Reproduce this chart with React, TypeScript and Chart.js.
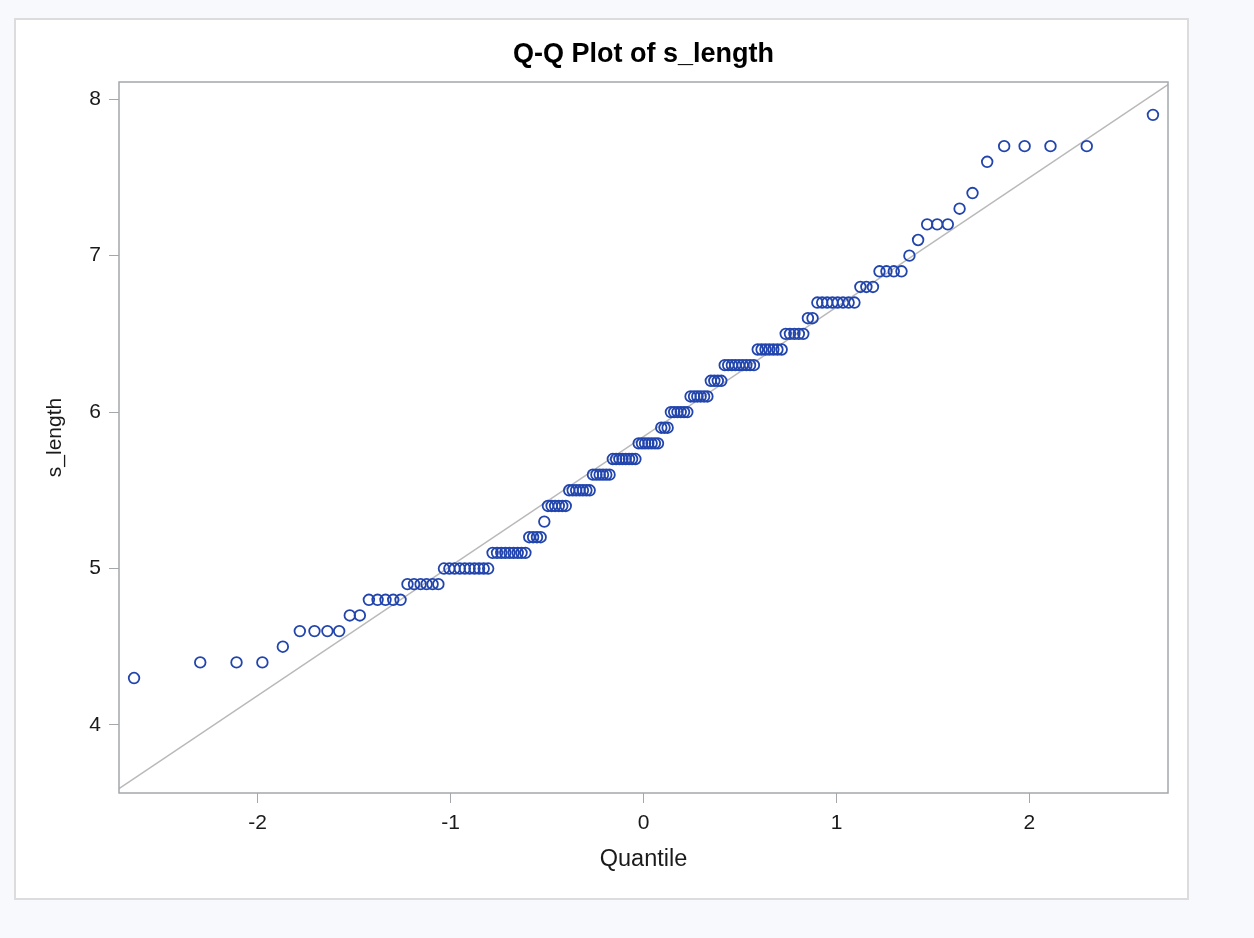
import React, { useEffect, useRef } from "react";
import { Chart, registerables } from "chart.js";

Chart.register(...registerables);

// Normal quantiles (x) paired with the sorted sepal lengths (y)
const quantiles = [
  -2.640, -2.297, -2.109, -1.975, -1.869, -1.781, -1.705, -1.638, -1.577, -1.522,
  -1.470, -1.423, -1.378, -1.337, -1.297, -1.259, -1.223, -1.189, -1.155, -1.124,
  -1.093, -1.063, -1.034, -1.006, -0.979, -0.952, -0.926, -0.901, -0.876, -0.852,
  -0.828, -0.805, -0.782, -0.759, -0.737, -0.716, -0.694, -0.673, -0.652, -0.632,
  -0.612, -0.592, -0.572, -0.552, -0.533, -0.514, -0.495, -0.476, -0.458, -0.439,
  -0.421, -0.403, -0.385, -0.367, -0.349, -0.331, -0.314, -0.296, -0.279, -0.262,
  -0.244, -0.227, -0.210, -0.193, -0.176, -0.159, -0.142, -0.125, -0.109, -0.092,
  -0.075, -0.059, -0.042, -0.025, -0.008,
  0.008, 0.025, 0.042, 0.059, 0.075,
  0.092, 0.109, 0.125, 0.142, 0.159, 0.176, 0.193, 0.210, 0.227, 0.244,
  0.262, 0.279, 0.296, 0.314, 0.331, 0.349, 0.367, 0.385, 0.403, 0.421,
  0.439, 0.458, 0.476, 0.495, 0.514, 0.533, 0.552, 0.572, 0.592, 0.612,
  0.632, 0.652, 0.673, 0.694, 0.716, 0.737, 0.759, 0.782, 0.805, 0.828,
  0.852, 0.876, 0.901, 0.926, 0.952, 0.979, 1.006, 1.034, 1.063, 1.093,
  1.124, 1.155, 1.189, 1.223, 1.259, 1.297, 1.337, 1.378, 1.423, 1.470,
  1.522, 1.577, 1.638, 1.705, 1.781, 1.869, 1.975, 2.109, 2.297, 2.640,
];

const sLength = [
  4.3,
  4.4, 4.4, 4.4,
  4.5,
  4.6, 4.6, 4.6, 4.6,
  4.7, 4.7,
  4.8, 4.8, 4.8, 4.8, 4.8,
  4.9, 4.9, 4.9, 4.9, 4.9, 4.9,
  5.0, 5.0, 5.0, 5.0, 5.0, 5.0, 5.0, 5.0, 5.0, 5.0,
  5.1, 5.1, 5.1, 5.1, 5.1, 5.1, 5.1, 5.1, 5.1,
  5.2, 5.2, 5.2, 5.2,
  5.3,
  5.4, 5.4, 5.4, 5.4, 5.4, 5.4,
  5.5, 5.5, 5.5, 5.5, 5.5, 5.5, 5.5,
  5.6, 5.6, 5.6, 5.6, 5.6, 5.6,
  5.7, 5.7, 5.7, 5.7, 5.7, 5.7, 5.7, 5.7,
  5.8, 5.8, 5.8, 5.8, 5.8, 5.8, 5.8,
  5.9, 5.9, 5.9,
  6.0, 6.0, 6.0, 6.0, 6.0, 6.0,
  6.1, 6.1, 6.1, 6.1, 6.1, 6.1,
  6.2, 6.2, 6.2, 6.2,
  6.3, 6.3, 6.3, 6.3, 6.3, 6.3, 6.3, 6.3, 6.3,
  6.4, 6.4, 6.4, 6.4, 6.4, 6.4, 6.4,
  6.5, 6.5, 6.5, 6.5, 6.5,
  6.6, 6.6,
  6.7, 6.7, 6.7, 6.7, 6.7, 6.7, 6.7, 6.7,
  6.8, 6.8, 6.8,
  6.9, 6.9, 6.9, 6.9,
  7.0,
  7.1,
  7.2, 7.2, 7.2,
  7.3,
  7.4,
  7.6,
  7.7, 7.7, 7.7, 7.7,
  7.9,
];

// Reference line (mean + sd * quantile) end points
const refLineX = [-2.718, 2.718];
const refLineY = [3.593, 8.094];

const xTickValues = [-2, -1, 0, 1, 2];
const yTickValues = [4, 5, 6, 7, 8];

const chartTitle = "Q-Q Plot of s_length";

const FONT = "'Liberation Sans', Arial, Helvetica, sans-serif";

// Box around the plot area and a title centred over it
const plotFrame = {
  id: "plotFrame",
  afterDatasetsDraw(chart: any) {
    const { ctx, chartArea: a } = chart;
    ctx.save();
    ctx.strokeStyle = "#a4a8ac";
    ctx.lineWidth = 1.5;
    ctx.strokeRect(a.left, a.top, a.right - a.left, a.bottom - a.top);
    ctx.restore();
  },
  afterDraw(chart: any) {
    const { ctx, chartArea: a } = chart;
    ctx.save();
    ctx.fillStyle = "#000000";
    ctx.font = `bold 27px ${FONT}`;
    ctx.textAlign = "center";
    ctx.textBaseline = "middle";
    ctx.fillText(chartTitle, (a.left + a.right) / 2, 35);
    ctx.restore();
  },
};

export default function App() {
  const canvasRef = useRef<HTMLCanvasElement | null>(null);

  useEffect(() => {
    if (!canvasRef.current) return;
    const points = quantiles.map((q, i) => ({ x: q, y: sLength[i] }));
    const line = refLineX.map((x, i) => ({ x, y: refLineY[i] }));

    const chart = new Chart(canvasRef.current, {
      type: "scatter",
      data: {
        datasets: [
          {
            label: "s_length",
            data: points,
            pointStyle: "circle",
            pointRadius: 5.3,
            pointBorderWidth: 1.8,
            pointBorderColor: "#2245ad",
            pointBackgroundColor: "rgba(0,0,0,0)",
            showLine: false,
          },
          {
            label: "reference",
            data: line,
            showLine: true,
            pointRadius: 0,
            borderColor: "#b9b9b9",
            borderWidth: 1.5,
          },
        ],
      },
      options: {
        responsive: false,
        animation: false,
        layout: { padding: { left: 23, right: 19, top: 62, bottom: 20 } },
        plugins: {
          legend: { display: false },
          tooltip: { enabled: false },
          title: { display: false },
        },
        scales: {
          x: {
            type: "linear",
            min: -2.718,
            max: 2.718,
            afterFit: (s: any) => {
              s.height = 85;
            },
            afterBuildTicks: (s: any) => {
              s.ticks = xTickValues.map((v) => ({ value: v }));
            },
            border: { display: false },
            grid: {
              drawOnChartArea: false,
              drawTicks: true,
              tickLength: 10,
              color: "#a4a8ac",
              lineWidth: 1,
            },
            ticks: {
              padding: 8,
              color: "#1a1a1a",
              font: { family: FONT, size: 21 },
              maxRotation: 0,
            },
            title: {
              display: true,
              text: "Quantile",
              color: "#1a1a1a",
              font: { family: FONT, size: 23.5 },
            },
          },
          y: {
            type: "linear",
            min: 3.565,
            max: 8.11,
            afterFit: (s: any) => {
              s.width = 80;
            },
            afterBuildTicks: (s: any) => {
              s.ticks = yTickValues.map((v) => ({ value: v }));
            },
            border: { display: false },
            grid: {
              drawOnChartArea: false,
              drawTicks: true,
              tickLength: 10,
              color: "#a4a8ac",
              lineWidth: 1,
            },
            ticks: {
              padding: 8,
              color: "#1a1a1a",
              font: { family: FONT, size: 21 },
            },
            title: {
              display: true,
              text: "s_length",
              color: "#1a1a1a",
              font: { family: FONT, size: 21 },
            },
          },
        },
      },
      plugins: [plotFrame],
    } as any);

    return () => chart.destroy();
  }, []);

  return (
    <div
      style={{
        position: "fixed",
        left: 0,
        top: 0,
        width: 1254,
        height: 938,
        background: "#f8f9fd",
      }}
    >
      <div
        style={{
          position: "absolute",
          left: 14,
          top: 18,
          width: 1175,
          height: 882,
          boxSizing: "border-box",
          border: "2px solid #dcdcdf",
          background: "#ffffff",
        }}
      >
        <canvas
          ref={canvasRef}
          width={1171}
          height={878}
          style={{ display: "block", width: 1171, height: 878 }}
        />
      </div>
    </div>
  );
}
